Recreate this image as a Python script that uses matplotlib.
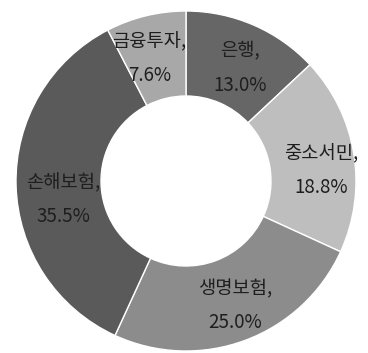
import numpy as np
import matplotlib.pyplot as plt

plt.rcParams["font.family"] = ["Noto Sans CJK KR", "DejaVu Sans"]

labels = ["은행", "중소서민", "생명보험", "손해보험", "금융투자"]
shares = [13.0, 18.8, 25.0, 35.5, 7.6]
colors = ["#666666", "#bebebe", "#8c8c8c", "#5a5a5a", "#a8a8a8"]

# label placement: radius and small angle nudge (degrees) from the wedge middle
label_radius = [0.735, 0.80, 0.79, 0.73, 0.75]
label_nudge = [-2.0, -5.0, 1.0, 7.5, 3.0]

# pixel layout of the reference (368x353): center (186,181), outer radius 170
W, H = 368, 353
cx, cy, R = 186, 181, 170

fig = plt.figure(figsize=(W / 100, H / 100), dpi=100)
ax = fig.add_axes([0, 0, 1, 1])

wedges, _ = ax.pie(
    shares,
    colors=colors,
    startangle=90,
    counterclock=False,
    radius=1.0,
    wedgeprops=dict(width=0.5, edgecolor="white", linewidth=1.0),
)

for w, name, val, r, d in zip(wedges, labels, shares, label_radius, label_nudge):
    mid = np.deg2rad((w.theta1 + w.theta2) / 2 + d)
    ax.text(r * np.cos(mid), r * np.sin(mid), f"{name},\n{val:.1f}%",
            ha="center", va="center", fontsize=13.5, color="#1e1e1e",
            linespacing=1.8)

ax.set_xlim(-cx / R, (W - cx) / R)
ax.set_ylim(-(H - cy) / R, cy / R)
ax.set_aspect("auto")
ax.axis("off")

fig.savefig("out.png", dpi=100)
